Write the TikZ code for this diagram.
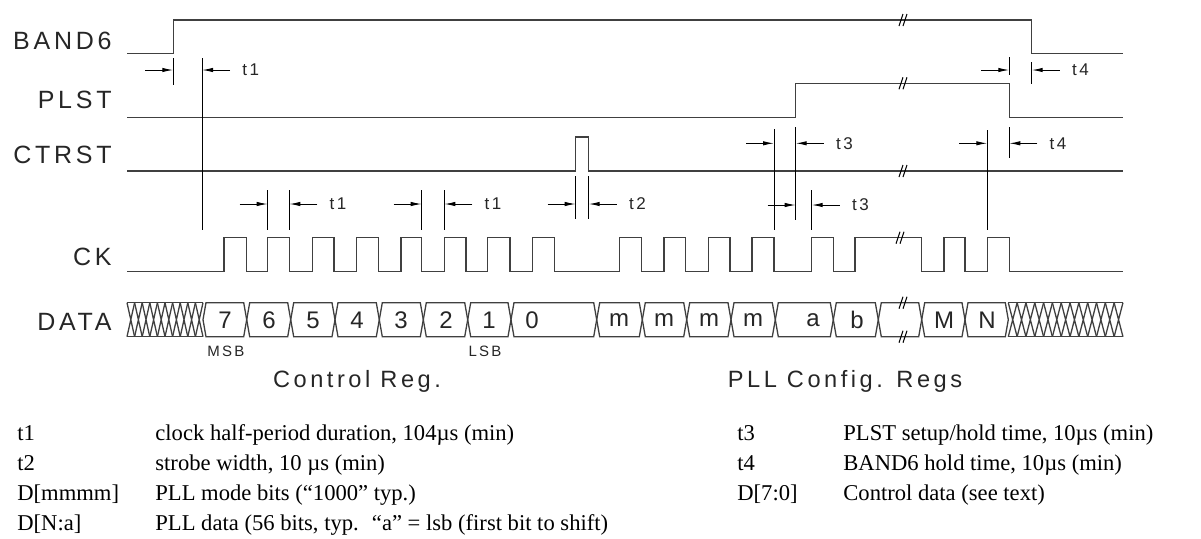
\documentclass[tikz,border=0pt]{standalone}
\usepackage{fontspec}
\setmainfont{Liberation Serif}
\newfontfamily\cadfont[LetterSpace=15]{Liberation Sans}
\usetikzlibrary{arrows.meta,calc}

\tikzset{
  wave/.style={line width=0.65pt, black!75},
  dimline/.style={line width=0.5pt, black},
  dimarrow/.style={dimline, -{Latex[length=5.5pt,width=2.2pt]}},
  brkline/.style={line width=0.5pt, black},
  signame/.style={anchor=east, inner sep=0pt, text=black!85, font=\cadfont\fontsize{12.5}{12.5}\selectfont},
  bitlabel/.style={inner sep=0pt, text=black!85, font=\cadfont\fontsize{12}{12}\selectfont},
  tlabel/.style={anchor=west, inner sep=0pt, text=black!85, font=\cadfont\fontsize{8.5}{8.5}\selectfont},
  reglabel/.style={inner sep=0pt, text=black!85, font=\cadfont\fontsize{11.8}{11.8}\selectfont},
  bitend/.style={inner sep=0pt, text=black!85, font=\cadfont\fontsize{7.5}{7.5}\selectfont},
  legend/.style={anchor=base west, inner sep=0pt, font=\fontsize{11.3}{11.3}\selectfont},
}

% break mark across a line
\newcommand{\brk}[2]{\draw[brkline] (#1-4,#2+6) -- (#1,#2-6) (#1,#2+6) -- (#1+4,#2-6);}

% timing arrows: name, left tick, right tick, height, label
\newcommand{\tdim}[5]{%
  \coordinate (#1L) at (#2,#4);
  \coordinate (#1R) at (#3,#4);
  \draw[dimarrow] ($(#1L)+(-28,0)$) -- (#1L);
  \draw[dimarrow] ($(#1R)+(28,0)$) -- (#1R);
  \node[tlabel] (#1txt) at ($(#1R)+(40,0)$) {#5};
}

\begin{document}
\begin{tikzpicture}[x=0.5pt,y=-0.5pt]
    \useasboundingbox (0,0) rectangle (1201,538);

    % Signal names
    \node[signame] (band6) at (112,40.7) {BAND6};
    \node[signame] (plst) at (112,100) {PLST};
    \node[signame] (ctrst) at (112,155) {CTRST};
    \node[signame] (ck) at (112,257) {CK};
    \node[signame] (data) at (112,322) {DATA};

    % BAND6
    \draw[wave] (127,53.3) -- (173.3,53.3) -- (173.3,20) -- (1031.7,20) -- (1031.7,53.3) -- (1123,53.3);
    \brk{903}{20}

    % PLST
    \draw[wave] (127,117.7) -- (795.7,117.7) -- (795.7,83.3) -- (1009.3,83.3) -- (1009.3,117.7) -- (1123,117.7);
    \brk{903}{83.3}

    % CTRST strobe
    \draw[wave] (127,171) -- (575.7,171) -- (575.7,137) -- (588.7,137) -- (588.7,171) -- (1123,171);
    \brk{903}{171}

    % CK
    \draw[wave] (127,271.7)
      \foreach \up/\dn in {224/246.7, 267.7/289.3, 312.3/334, 356.7/378.3,
                           401/421.7, 444.3/466, 487.7/510, 532.3/554.3,
                           619.3/641.7, 664/685.7, 708.3/730, 752/774,
                           811.7/833.3, 855/921.7, 944/965, 987.3/1009.3}
      { -- (\up,271.7) -- (\up,237.7) -- (\dn,237.7) -- (\dn,271.7) }
      -- (1123,271.7);
    \brk{900}{237.7}

    % DATA, don't care at both ends
    \draw[wave] (127,302.7) -- (203,302.7) (127,336.7) -- (203,336.7);
    \foreach \i in {0,...,9} {
        \pgfmathsetmacro{\hx}{127+7.6*\i}
        \draw[wave] (\hx,302.7) -- (\hx+7.6,336.7) (\hx,336.7) -- (\hx+7.6,302.7);
    }
    \draw[wave] (1008.3,302.7) -- (1123,302.7) (1008.3,336.7) -- (1123,336.7);
    \foreach \i in {0,...,12} {
        \pgfmathsetmacro{\hx}{1008.3+8.82*\i}
        \draw[wave] (\hx,302.7) -- (\hx+8.82,336.7) (\hx,336.7) -- (\hx+8.82,302.7);
    }

    % DATA bits
    \foreach \xa/\xb/\lx/\b [count=\n] in {203/246.7/225/7, 246.7/290.7/269/6, 290.7/335/313/5,
                                 335/379.3/357/4, 379.3/423.3/401/3, 423.3/467.7/446/2,
                                 467.7/511/489/1, 511/596.7/532/0, 596.7/642.3/619/m,
                                 642.3/686.7/664/m, 686.7/731/709/m, 731/775.3/753/m,
                                 775.3/833.3/813/a, 833.3/878.3/857/b, 878.3/921.7/900/{},
                                 921.7/965/944/M, 965/1008.3/987/N} {
        \draw[wave] (\xa,319.7) -- (\xa+3,302.7) -- (\xb-3,302.7) -- (\xb,319.7)
                    -- (\xb-3,336.7) -- (\xa+3,336.7) -- cycle;
        \node[bitlabel] (bit\n) at (\lx,320) {\b};
    }
    \brk{903}{302.7}
    \brk{903}{336.7}

    % Register labels
    \node[bitend] (msb) at (226,351) {MSB};
    \node[bitend] (lsb) at (485,351) {LSB};
    \node[reglabel] (ctlreg) at (357,381) {Control Reg.};
    \node[reglabel] (pllreg) at (845,381) {PLL Config. Regs};

    % Timing ticks
    \draw[dimline] (173.3,58) -- (173.3,85);
    \draw[dimline] (202,58) -- (202,230);
    \draw[dimline] (267.7,190) -- (267.7,230) (289.3,190) -- (289.3,230);
    \draw[dimline] (421.7,190) -- (421.7,230) (444.3,190) -- (444.3,230);
    \draw[dimline] (575.7,176) -- (575.7,219) (588.7,176) -- (588.7,219);
    \draw[dimline] (774,129) -- (774,230);
    \draw[dimline] (795.7,127) -- (795.7,220);
    \draw[dimline] (811.7,190) -- (811.7,230);
    \draw[dimline] (987.3,130) -- (987.3,230);
    \draw[dimline] (1009.3,57) -- (1009.3,75) (1009.3,127) -- (1009.3,158);
    \draw[dimline] (1031.7,62) -- (1031.7,84);

    % Timing arrows
    \tdim{tia}{173.3}{202}{70}{t1}
    \tdim{tfa}{1009.3}{1031.7}{70}{t4}
    \tdim{tta}{774}{795.7}{143.3}{t3}
    \tdim{tfb}{987.3}{1009.3}{143.3}{t4}
    \tdim{tib}{267.7}{289.3}{204}{t1}
    \tdim{tic}{421.7}{444.3}{204}{t1}
    \tdim{ts}{575.7}{588.7}{204}{t2}
    \tdim{ttb}{795.7}{811.7}{205}{t3}

    % Legend
    \node[legend] (k1) at (17,440) {t1};
    \node[legend] (d1) at (155,440) {clock half-period duration, 104µs (min)};
    \node[legend] (k2) at (17,470) {t2};
    \node[legend] (d2) at (155,470) {strobe width, 10 µs (min)};
    \node[legend] (k3) at (17,500) {D[mmmm]};
    \node[legend] (d3) at (155,500) {PLL mode bits (“1000” typ.)};
    \node[legend] (k4) at (17,530) {D[N:a]};
    \node[legend] (d4) at (155,530) {PLL data (56 bits, typ.~ “a” = lsb (first bit to shift)};
    \node[legend] (k5) at (737,440) {t3};
    \node[legend] (d5) at (843,440) {PLST setup/hold time, 10µs (min)};
    \node[legend] (k6) at (737,470) {t4};
    \node[legend] (d6) at (843,470) {BAND6 hold time, 10µs (min)};
    \node[legend] (k7) at (737,500) {D[7:0]};
    \node[legend] (d7) at (843,500) {Control data (see text)};
\end{tikzpicture}
\end{document}
